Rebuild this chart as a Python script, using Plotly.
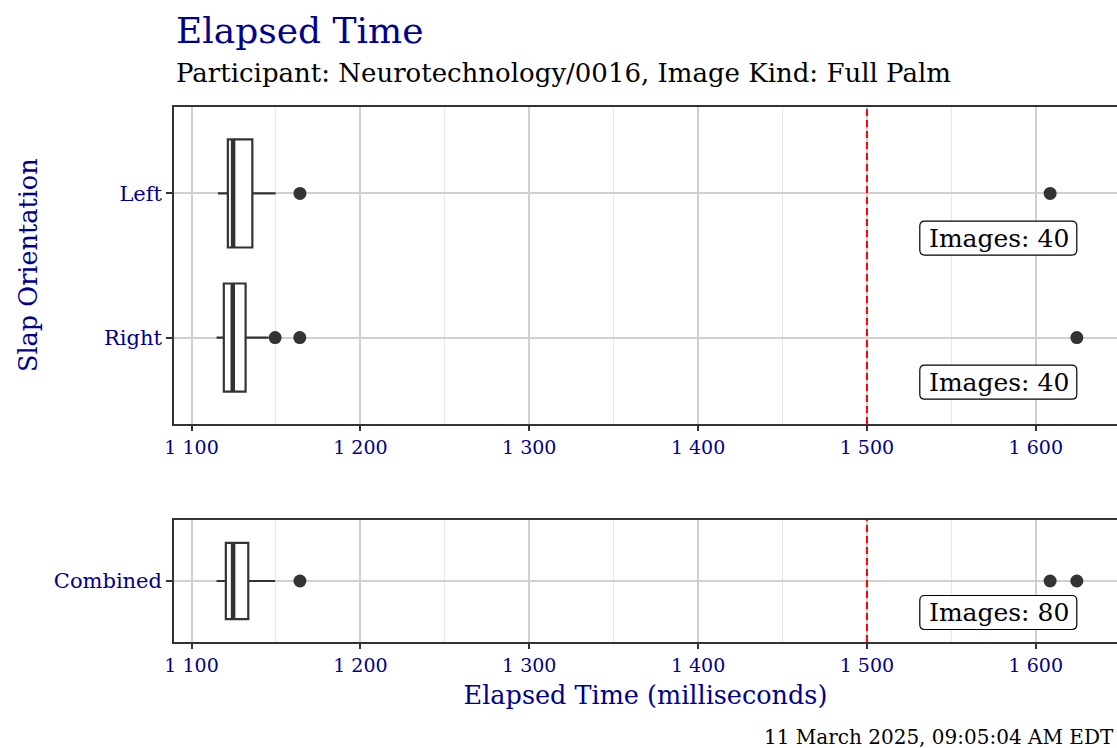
import plotly.graph_objects as go

# ---- data (milliseconds) ----
orientations = ["Left", "Right"]
q1_vals = [1121.5, 1119.1]
median_vals = [1124.6, 1124.4]
q3_vals = [1136.0, 1132.0]
lower_whisker = [1115.6, 1114.8]
upper_whisker = [1149.8, 1145.6]
outliers_left = [1164.2, 1608.5]
outliers_right = [1149.5, 1164.1, 1624.3]
image_counts = [40, 40]

combined_label = ["Combined"]
combined_q1 = [1120.3]
combined_median = [1124.6]
combined_q3 = [1133.6]
combined_lower = [1114.8]
combined_upper = [1149.5]
combined_outliers = [1164.2, 1608.5, 1624.3]
combined_count = [80]

threshold_ms = 1500
tick_vals = [1100, 1200, 1300, 1400, 1500, 1600]
tick_text = ["1 100", "1 200", "1 300", "1 400", "1 500", "1 600"]
x_range = [1089.6, 1648.1]

FONT = "DejaVu Serif"
NAVY = "#00008B"
INK = "#333333"
BOX_W = 0.75

fig = go.Figure()

box_style = dict(
    orientation="h", fillcolor="white", width=BOX_W, whiskerwidth=0,
    line=dict(color=INK, width=2.2), showlegend=False, hoverinfo="skip",
)

# grouped boxes (top panel)
fig.add_trace(go.Box(
    y=orientations, q1=q1_vals, median=median_vals, q3=q3_vals,
    lowerfence=lower_whisker, upperfence=upper_whisker,
    xaxis="x", yaxis="y", **box_style,
))
# combined box (bottom panel)
fig.add_trace(go.Box(
    y=combined_label, q1=combined_q1, median=combined_median, q3=combined_q3,
    lowerfence=combined_lower, upperfence=combined_upper,
    xaxis="x2", yaxis="y2", **box_style,
))

# thick median bars
for meds, xa, ya in [(median_vals, "x", "y"), (combined_median, "x2", "y2")]:
    for i, m in enumerate(meds):
        fig.add_shape(type="line", xref=xa, yref=ya, x0=m, x1=m,
                      y0=i - BOX_W / 2, y1=i + BOX_W / 2,
                      line=dict(color=INK, width=4.5), layer="above")

# outlier points
marker = dict(color=INK, size=13)
fig.add_trace(go.Scatter(x=outliers_left, y=["Left"] * len(outliers_left),
                         mode="markers", marker=marker, xaxis="x", yaxis="y",
                         showlegend=False, hoverinfo="skip"))
fig.add_trace(go.Scatter(x=outliers_right, y=["Right"] * len(outliers_right),
                         mode="markers", marker=marker, xaxis="x", yaxis="y",
                         showlegend=False, hoverinfo="skip"))
fig.add_trace(go.Scatter(x=combined_outliers, y=combined_label * len(combined_outliers),
                         mode="markers", marker=marker, xaxis="x2", yaxis="y2",
                         showlegend=False, hoverinfo="skip"))

# threshold line in both panels
for xa, ya in [("x", "y"), ("x2", "y2")]:
    fig.add_shape(type="line", xref=xa, yref=f"{ya} domain",
                  x0=threshold_ms, x1=threshold_ms, y0=0, y1=1,
                  line=dict(color="red", width=2, dash="7px,4px"), layer="above")


def rounded_box(w, h, r):
    """Rounded rectangle path in pixels, right edge at 0, centred vertically."""
    x0, x1, y0, y1 = -w, 0, -h / 2, h / 2
    return (f"M{x0 + r},{y0} L{x1 - r},{y0} Q{x1},{y0} {x1},{y0 + r} "
            f"L{x1},{y1 - r} Q{x1},{y1} {x1 - r},{y1} L{x0 + r},{y1} "
            f"Q{x0},{y1} {x0},{y1 - r} L{x0},{y0 + r} Q{x0},{y0} {x0 + r},{y0} Z")


LABEL_DY = 0.31
annos = []


def count_label(x, y, n, xa, ya):
    fig.add_shape(type="path", xref=xa, yref=ya, xsizemode="pixel", ysizemode="pixel",
                  xanchor=x, yanchor=y, path=rounded_box(157, 34, 5),
                  fillcolor="white", line=dict(color="black", width=1.2), layer="above")
    annos.append(dict(x=x, y=y, xref=xa, yref=ya, xshift=-78, text=f"Images: {n}",
                      showarrow=False, xanchor="center", yanchor="middle",
                      font=dict(family=FONT, size=25, color="black")))


# image count labels anchored at the largest value
label_x = max(outliers_left + outliers_right)
for i, n in enumerate(image_counts):
    count_label(label_x, i + LABEL_DY, n, "x", "y")
count_label(max(combined_outliers), LABEL_DY, combined_count[0], "x2", "y2")

# titles, axis label and stamp
annos += [
    dict(text="Elapsed Time", x=0, xref="paper", y=1, yref="paper",
         yshift=77, xanchor="left", yanchor="middle", showarrow=False,
         font=dict(family=FONT, size=36, color=NAVY)),
    dict(text="Participant: Neurotechnology/0016, Image Kind: Full Palm",
         x=0, xref="paper", y=1, yref="paper", yshift=34, xanchor="left",
         yanchor="middle", showarrow=False,
         font=dict(family=FONT, size=26, color="black")),
    dict(text="Slap Orientation", x=(28 - 174) / 943, xref="paper",
         y=1, yref="paper", yshift=-158, xanchor="center", yanchor="middle",
         textangle=-90, showarrow=False,
         font=dict(family=FONT, size=25.5, color=NAVY)),
    dict(text="11 March 2025, 09:05:04 AM EDT", x=1, xref="paper", xshift=-1,
         y=0, yref="paper", yshift=-95, xanchor="right", yanchor="middle",
         showarrow=False, font=dict(family=FONT, size=20, color="black")),
]

xaxis_common = dict(
    range=x_range, tickvals=tick_vals, ticktext=tick_text,
    showgrid=True, gridcolor="#d0d0d0", gridwidth=1.5,
    minor=dict(dtick=50, tick0=1100, showgrid=True, gridcolor="#e8e8e8", gridwidth=1),
    showline=True, linecolor=INK, linewidth=1.6, mirror=True,
    ticks="outside", ticklen=5, tickcolor=INK, tickwidth=1.6,
    tickfont=dict(family=FONT, size=19, color=NAVY), zeroline=False,
)
yaxis_common = dict(
    type="category", showgrid=True, gridcolor="#d0d0d0", gridwidth=1.5,
    showline=True, linecolor=INK, linewidth=1.6, mirror=False,
    ticks="outside", ticklen=6, tickcolor=INK, tickwidth=1.6,
    tickfont=dict(family=FONT, size=21, color=NAVY), zeroline=False,
)

fig.update_layout(
    width=1117, height=748,
    margin=dict(l=174, r=0, t=107, b=106),
    paper_bgcolor="white", plot_bgcolor="white",
    showlegend=False,
    xaxis=dict(domain=[0, 1], anchor="y", **xaxis_common),
    yaxis=dict(domain=[0.4075, 1], anchor="x", range=[1.6, -0.6],
               categoryorder="array", categoryarray=orientations,
               ticklabelstandoff=0, **yaxis_common),
    xaxis2=dict(domain=[0, 1], anchor="y2",
                title=dict(text="Elapsed Time (milliseconds)",
                           font=dict(family=FONT, size=25.5, color=NAVY), standoff=12),
                **xaxis_common),
    yaxis2=dict(domain=[0, 0.228], anchor="x2", range=[0.6, -0.6],
                ticklabelstandoff=0, **yaxis_common),
    annotations=annos,
)

fig.write_html("out.html")
